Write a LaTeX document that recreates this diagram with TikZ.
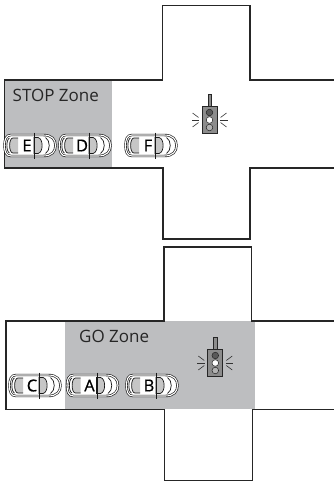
\documentclass[tikz,border=0pt]{standalone}
\usepackage{fontspec}
\setmainfont{Open Sans}
\newfontfamily\carfont[FakeBold=0.6]{Open Sans}
\begin{document}
\begin{tikzpicture}[x=1pt,y=-1pt,
  road/.style={draw=black!85, line width=1.4pt, line join=miter},
  zone/.style={fill=zonegray, draw=none},
  zonelabel/.style={font=\fontsize{17}{17}\selectfont, text=black!85, inner sep=0pt, anchor=base west},
  carlabel/.style={font=\carfont\fontsize{16.5}{16.5}\selectfont, text=black, inner sep=0pt},
  carline/.style={draw=black!90, line width=0.7pt},
  car/.pic={
    % body with a double outline
    \path[fill=white, draw=black!90, double=white, double distance=1.1pt, line width=0.65pt]
      (-19,-10.5) -- (13,-10.5) .. controls (22,-10.5) and (25.5,-6) .. (25.5,0)
      .. controls (25.5,6) and (22,10.5) .. (13,10.5) -- (-19,10.5)
      .. controls (-24,10.5) and (-25.5,6) .. (-25.5,0)
      .. controls (-25.5,-6) and (-24,-10.5) .. (-19,-10.5) -- cycle;
    % rear window
    \path[fill=glassgray, carline] (-12,-7.5) -- (-17,-7.5) .. controls (-21.5,-7.5) and (-21.5,7.5) .. (-17,7.5) -- (-12,7.5);
    \draw[carline] (-20.5,-7.5) .. controls (-24,-6) and (-24,6) .. (-20.5,7.5);
    % windshield
    \path[fill=glassgray, carline] (4,-8) -- (8,-8) .. controls (13.5,-7) and (13.5,7) .. (8,8) -- (4,8) -- cycle;
    % hood
    \draw[carline] (15.5,-8) .. controls (20.5,-5) and (20.5,5) .. (15.5,8);
    % mirrors
    \draw[carline, line width=0.9pt] (4.5,-13) -- (4.5,13);
  },
  tlight/.pic={
    % pole
    \path[fill=lampgray, draw=black!85, line width=0.4pt] (-1.8,-13.5) rectangle (1.8,-26);
    % housing
    \path[fill=lampgray, draw=black!85, line width=0.7pt] (-7.5,-13.5) rectangle (7.5,13.5);
    % lamps
    \path[fill=black!65, draw=black!85, line width=0.5pt] (0,-7.5) circle (3.3);
    \path[fill=white, draw=black!85, line width=0.5pt] (0,0) circle (3.3);
    \path[fill=black!30, draw=black!85, line width=0.5pt] (0,7.5) circle (3.3);
    % glow rays
    \foreach \s in {-1,1} {
      \draw[black!80, line width=0.6pt] (\s*10.5,0) -- (\s*18,0);
      \draw[black!80, line width=0.6pt] (\s*11,-2.5) -- (\s*17,-7);
      \draw[black!80, line width=0.6pt] (\s*11,2.5) -- (\s*17,7);
    }
  }
]
\definecolor{zonegray}{HTML}{BDBEC0}
\definecolor{glassgray}{HTML}{C6C6C6}
\definecolor{lampgray}{HTML}{8C8C8C}
\useasboundingbox (0,0) rectangle (334,484);

% ---------- upper crossing: red light ----------
\path[zone] (4.7,80) rectangle (112,168);
\draw[road] (336,80) -- (250,80) -- (250,5.7) -- (162.7,5.7) -- (162.7,80) -- (4.7,80)
  -- (4.7,168) -- (163,168) -- (163,239) -- (250,239) -- (250,168) -- (336,168);
\node[zonelabel] (stop) at (12.5,101.5) {STOP Zone};
\pic (lightA) at (209.5,120) {tlight};
\pic (carE) at (30,145.5) {car};
\pic (carD) at (85,145.5) {car};
\pic (carF) at (151,145.5) {car};
\node[carlabel] (lE) at (27,145.5) {E};
\node[carlabel] (lD) at (82,145.5) {D};
\node[carlabel] (lF) at (148,145.5) {F};

% ---------- lower crossing: green light ----------
\path[zone] (65,321) rectangle (255,409.3);
\draw[road] (336,321) -- (251.7,321) -- (251.7,247) -- (164,247) -- (164,321) -- (6,321)
  -- (6,409.3) -- (164.7,409.3) -- (164.7,480.3) -- (252.3,480.3) -- (252.3,409.3) -- (336,409.3);
\node[zonelabel] (go) at (79,342) {GO Zone};
\pic (lightB) at (215.3,363) {tlight};
\pic (carC) at (35,385.5) {car};
\pic (carA) at (92.5,385.5) {car};
\pic (carB) at (152,385.5) {car};
\node[carlabel] (lC) at (32,385.5) {C};
\node[carlabel] (lA) at (89.5,385.5) {A};
\node[carlabel] (lB) at (149,385.5) {B};
\end{tikzpicture}
\end{document}
